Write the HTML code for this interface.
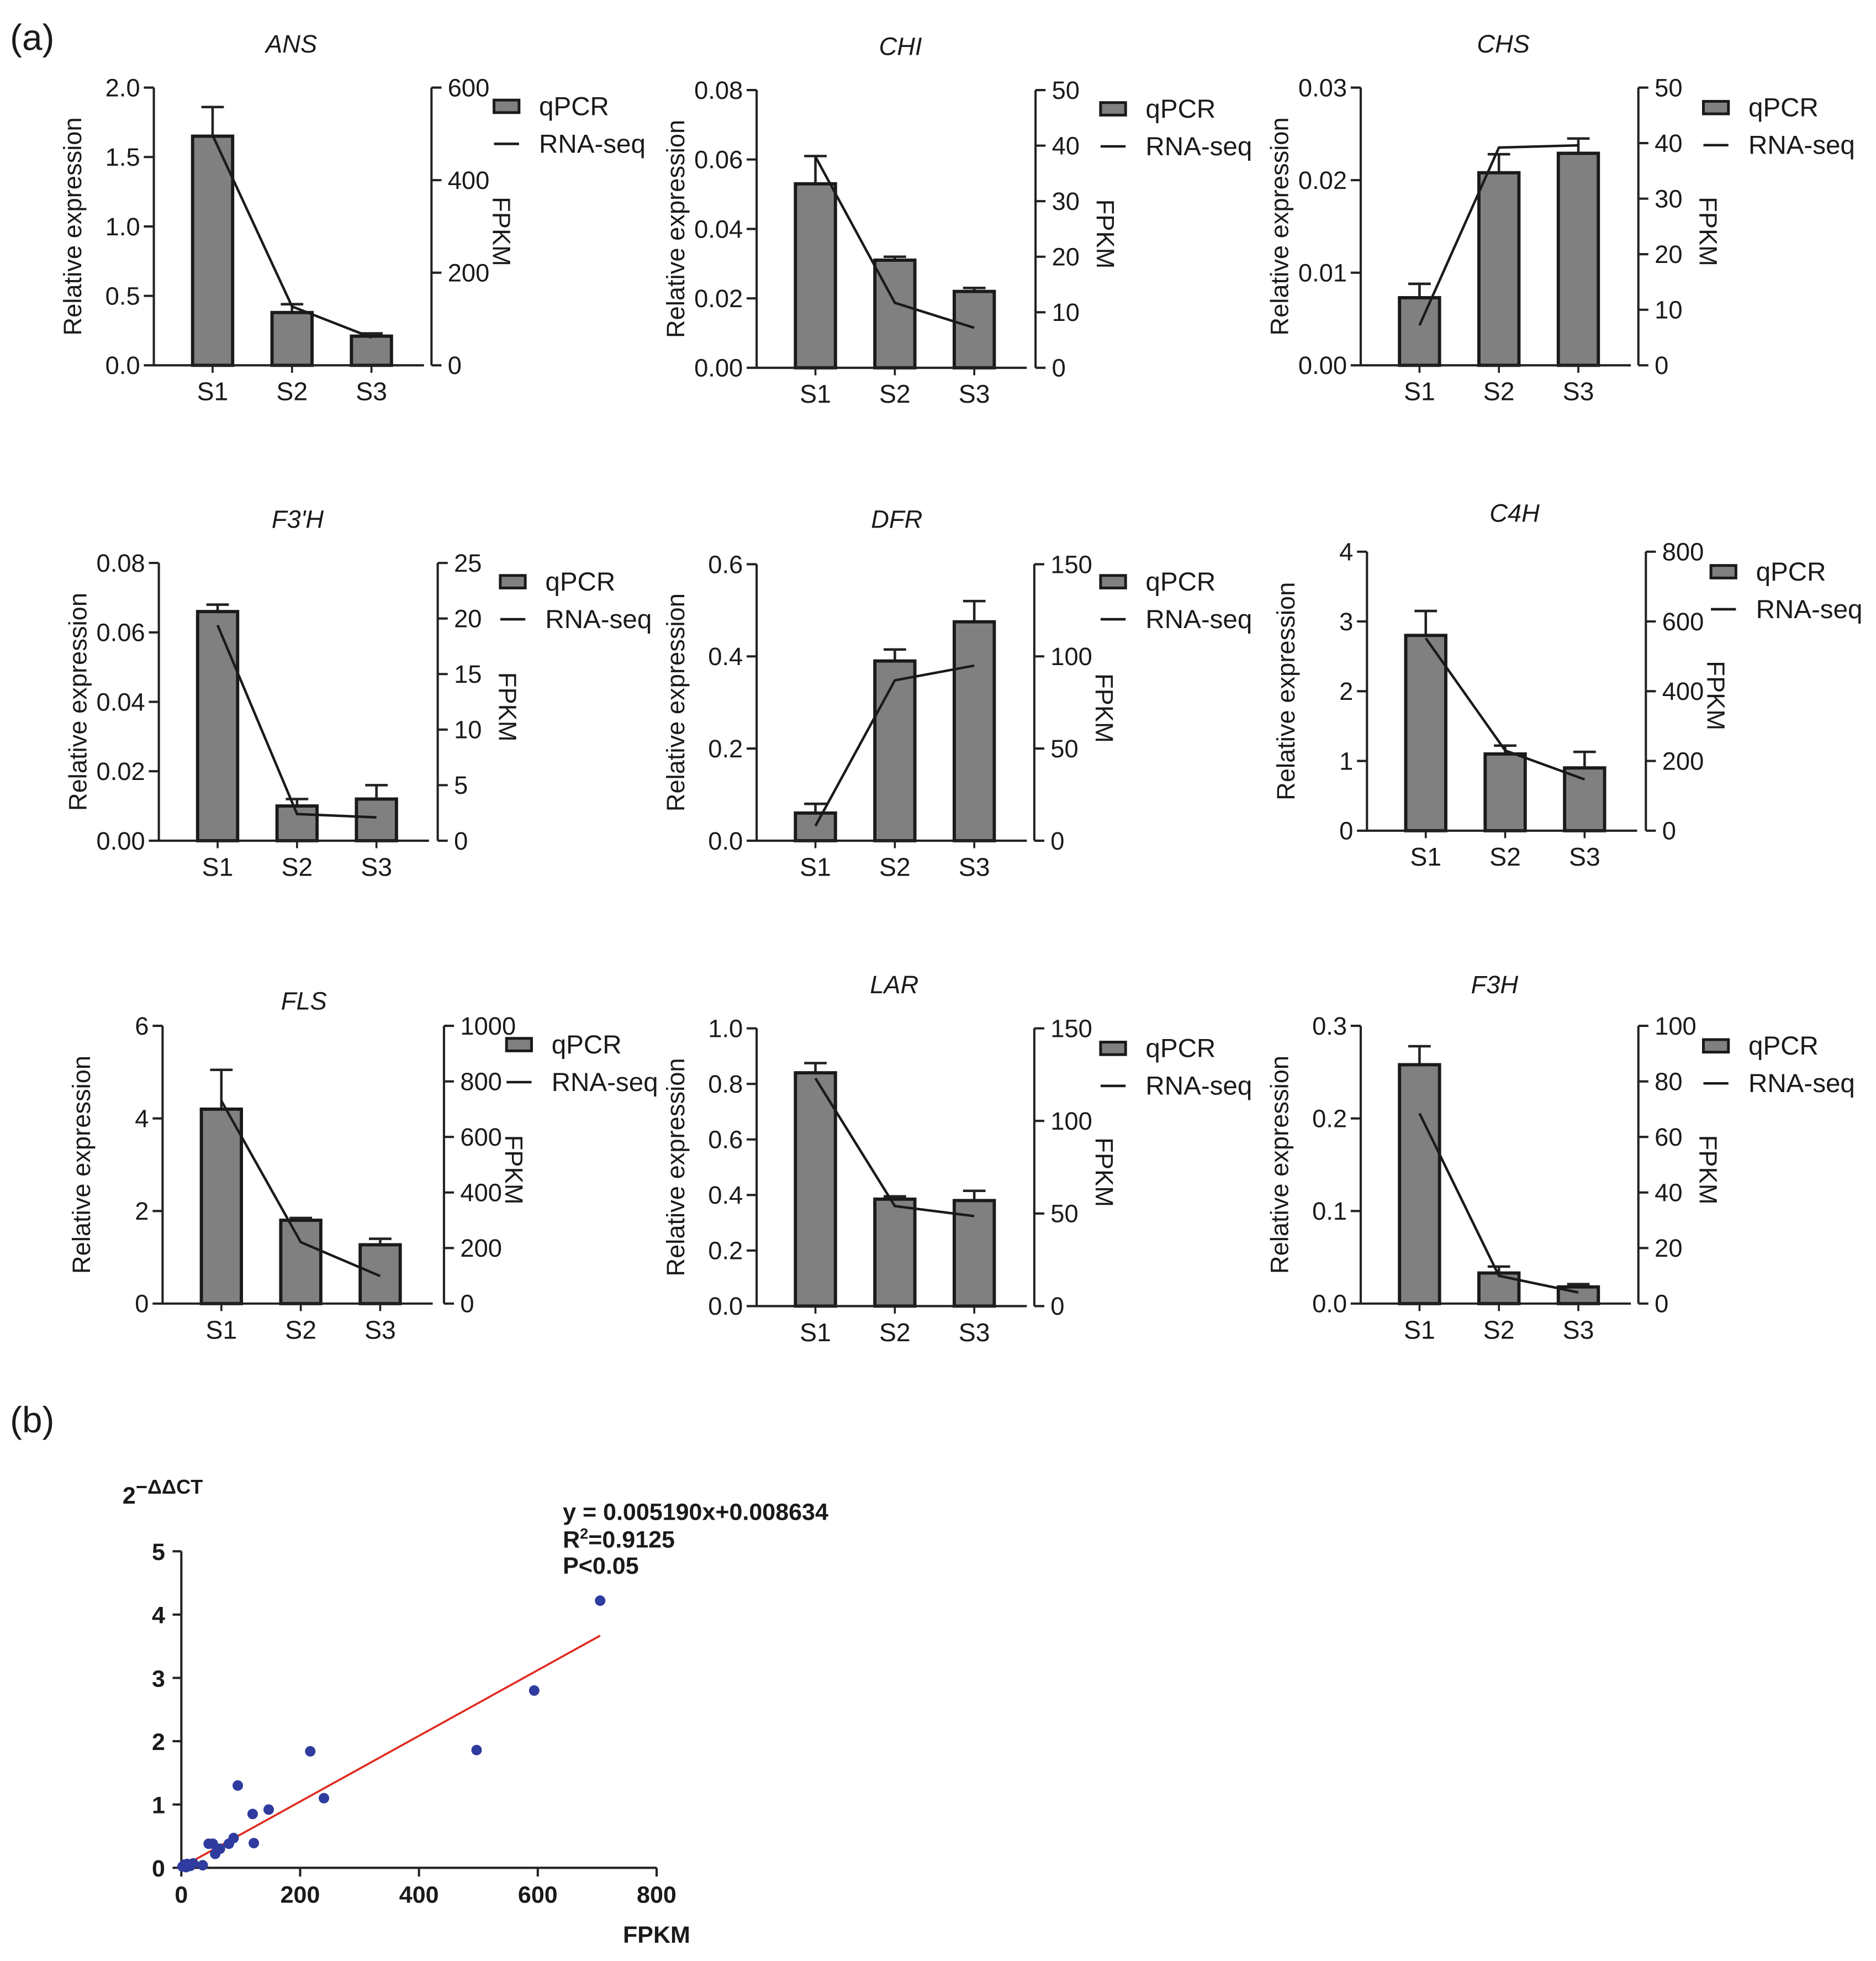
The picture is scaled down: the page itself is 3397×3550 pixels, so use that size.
<!DOCTYPE html>
<html><head><meta charset="utf-8"><style>
html,body{margin:0;padding:0;background:#fff}
svg{display:block}
text{font-family:"Liberation Sans",Arial,sans-serif;fill:#1a1a1a}
</style></head><body>
<svg id="fig" width="3397" height="3550" viewBox="0 0 1500 1567.5" preserveAspectRatio="none" xmlns="http://www.w3.org/2000/svg">
<text x="8" y="40" font-size="29">(a)</text>
<text x="8" y="1145" font-size="29">(b)</text>
</svg>
<script>
const genes=["ANS","CHI","CHS","F3'H","DFR","C4H","FLS","LAR","F3H"];
const categories=["S1","S2","S3"];
const qpcrMeans=[[1.65,0.38,0.21],[0.053,0.031,0.022],[0.0073,0.0208,0.0229],[0.066,0.010,0.012],[0.06,0.39,0.475],[2.8,1.1,0.9],[4.2,1.8,1.27],[0.84,0.385,0.38],[0.258,0.033,0.018]];
const qpcrErrTop=[[1.86,0.44,0.23],[0.061,0.032,0.023],[0.0088,0.0228,0.0245],[0.068,0.012,0.016],[0.08,0.415,0.52],[3.15,1.22,1.13],[5.05,1.85,1.4],[0.875,0.395,0.415],[0.278,0.04,0.021]];
const fpkmValues=[[497,127,60],[38,11.7,7.2],[7.2,39.2,39.6],[19.4,2.4,2.1],[8,87,95],[552,230,147],[730,221,99],[123,54,48.6],[68.5,10,4]];
const leftMax=[2.0,0.08,0.03,0.08,0.6,4,6,1.0,0.3];
const rightMax=[600,50,50,25,150,800,1000,150,100];
const leftTicks=[["0.0","0.5","1.0","1.5","2.0"],["0.00","0.02","0.04","0.06","0.08"],["0.00","0.01","0.02","0.03"],["0.00","0.02","0.04","0.06","0.08"],["0.0","0.2","0.4","0.6"],["0","1","2","3","4"],["0","2","4","6"],["0.0","0.2","0.4","0.6","0.8","1.0"],["0.0","0.1","0.2","0.3"]];
const rightTicks=[["0","200","400","600"],["0","10","20","30","40","50"],["0","10","20","30","40","50"],["0","5","10","15","20","25"],["0","50","100","150"],["0","200","400","600","800"],["0","200","400","600","800","1000"],["0","50","100","150"],["0","20","40","60","80","100"]];
// scatter data
const scatterFpkm=[2,5,8,10,15,20,36,46,53,57,65,80,88,95,120,122,147,217,240,497,594,705];
const scatterDdct=[0.02,0.05,0.01,0.06,0.03,0.07,0.04,0.38,0.38,0.22,0.3,0.38,0.47,1.3,0.85,0.39,0.92,1.84,1.1,1.86,2.8,4.22];
const xTicksB=[0,200,400,600,800];
const yTicksB=[0,1,2,3,4,5];
const slope=0.005190, intercept=0.008634;

// layout (pixel geometry, not data)
const layout=[[123,70,292,345,233,42,395,85],[605,72,294,828,720,44,880,87],[1088,70,292,1310,1202,42,1362,86],
[127,450,672,350,238,422,400,465],[605,451,672,827,717,422,880,465],[1093,441,664,1316,1211,417,1368,457],
[130,820,1042,355,243,807,405,835],[605,822,1044,827,715,794,880,838],[1088,820,1042,1310,1195,794,1362,836]];
const svg=document.getElementById('fig');
const NS="http://www.w3.org/2000/svg";
function mk(tag,attrs,parent,txt){const e=document.createElementNS(NS,tag);for(const k in attrs)e.setAttribute(k,attrs[k]);if(txt!==undefined)e.textContent=txt;(parent||svg).appendChild(e);return e;}

genes.forEach((g,p)=>{
  const [lx,top,bot,rx,tx,ty,lgx,lgy]=layout[p];
  const grp=mk('g',{});
  
  
  const yL=v=>bot-(v/leftMax[p])*(bot-top);
  const yR=v=>bot-(v/rightMax[p])*(bot-top);
  const xC=i=>lx+47+i*63.5;
  const t=mk('text',{x:tx,y:ty,'font-size':20,'font-style':'italic','text-anchor':'middle'},grp,g);
  
  
  categories.forEach((c,i)=>{
    const v=qpcrMeans[p][i], e=qpcrErrTop[p][i];
    const eb=mk('path',{d:`M${xC(i)} ${yL(v)}V${yL(e)}M${xC(i)-9} ${yL(e)}H${xC(i)+9}`,stroke:'#222','stroke-width':2,fill:'none'},grp);
    
    
    const b=mk('rect',{x:xC(i)-16,y:yL(v),width:32,height:bot-yL(v),fill:'#808080',stroke:'#1a1a1a','stroke-width':2.6},grp);
    
    
    const cl=mk('text',{x:xC(i),y:bot+28,'font-size':20.5,'text-anchor':'middle'},grp,c);
    
    
    mk('line',{x1:xC(i),x2:xC(i),y1:bot,y2:bot+6,stroke:'#222','stroke-width':1.6},grp);
  });
  const pts=fpkmValues[p].map((v,i)=>xC(i)+','+yR(v)).join(' ');
  const ln=mk('polyline',{points:pts,fill:'none',stroke:'#1a1a1a','stroke-width':2},grp);
  
  
  mk('path',{d:`M${lx} ${top}V${bot}H${lx+216}`,stroke:'#222','stroke-width':1.8,fill:'none'},grp);
  mk('path',{d:`M${rx} ${top}V${bot}`,stroke:'#222','stroke-width':1.8,fill:'none'},grp);
  leftTicks[p].forEach((s,i)=>{
    const y=yL(parseFloat(s));
    mk('line',{x1:lx-8,x2:lx,y1:y,y2:y,stroke:'#222','stroke-width':1.8},grp);
    const tl=mk('text',{x:lx-11,y:y+7,'font-size':20,'text-anchor':'end'},grp,s);
    
    
  });
  rightTicks[p].forEach((s,i)=>{
    const y=yR(parseFloat(s));
    mk('line',{x1:rx,x2:rx+8,y1:y,y2:y,stroke:'#222','stroke-width':1.8},grp);
    const tl=mk('text',{x:rx+13,y:y+7,'font-size':20},grp,s);
    
    
  });
  const ym=(top+bot)/2;
  const at=mk('text',{x:0,y:0,'font-size':20,'text-anchor':'middle',transform:`translate(${lx-58},${ym}) rotate(-90)`},grp,'Relative expression');
  
  
  const rt=mk('text',{x:0,y:0,'font-size':20,'text-anchor':'middle',transform:`translate(${rx+49},${top+115}) rotate(90)`},grp,'FPKM');
  
  
  const l1=mk('g',{},grp);
  
  
  mk('rect',{x:lgx,y:lgy-5,width:20,height:10,fill:'#808080',stroke:'#1a1a1a','stroke-width':2.2},l1);
  mk('text',{x:lgx+36,y:lgy+7,'font-size':21},l1,'qPCR');
  const l2=mk('g',{},grp);
  
  
  mk('line',{x1:lgx,x2:lgx+20,y1:lgy+30,y2:lgy+30,stroke:'#1a1a1a','stroke-width':2},l2);
  mk('text',{x:lgx+36,y:lgy+37,'font-size':21},l2,'RNA-seq');
});

const sg=mk('g',{});


const bx0=145,bx1=525,by0=1493,by1=1240;
const sx=v=>bx0+v/800*(bx1-bx0);
const sy=v=>by0-v/5*(by0-by1);
mk('path',{d:`M${bx0} ${by1}V${by0}H${bx1}`,stroke:'#222','stroke-width':1.8,fill:'none'},sg);
xTicksB.forEach(v=>{
  mk('line',{x1:sx(v),x2:sx(v),y1:by0,y2:by0+7,stroke:'#222','stroke-width':1.8},sg);
  const t=mk('text',{x:sx(v),y:by0+28,'font-size':19,'font-weight':'bold','text-anchor':'middle'},sg,String(v));
  
  
});
yTicksB.forEach(v=>{
  mk('line',{x1:bx0-7,x2:bx0,y1:sy(v),y2:sy(v),stroke:'#222','stroke-width':1.8},sg);
  const t=mk('text',{x:bx0-13,y:sy(v)+7,'font-size':19,'font-weight':'bold','text-anchor':'end'},sg,String(v));
  
  
});
const xmaxFit=Math.max(...scatterFpkm);
const fit=mk('line',{x1:sx(0),y1:sy(intercept),x2:sx(xmaxFit),y2:sy(slope*xmaxFit+intercept),stroke:'#e02a1f','stroke-width':1.6},sg);


scatterFpkm.forEach((v,i)=>{
  const c=mk('circle',{cx:sx(v),cy:sy(scatterDdct[i]),r:4.2,fill:'#2f3b9e'},sg);
  
  
});
const xt=mk('text',{x:525,y:1553,'font-size':19,'font-weight':'bold','text-anchor':'middle'},sg,'FPKM');


const ytl=mk('text',{x:98,y:1202,'font-size':19,'font-weight':'bold'},sg);


ytl.innerHTML='2<tspan dy="-8" font-size="16">−ΔΔCT</tspan>';
const eq=mk('text',{x:450,y:1215,'font-size':19,'font-weight':'bold'},sg,'y = 0.005190x+0.008634');


const r2=mk('text',{x:450,y:1237,'font-size':19,'font-weight':'bold'},sg);


r2.innerHTML='R<tspan dy="-7" font-size="12">2</tspan><tspan dy="7">=0.9125</tspan>';
const pv=mk('text',{x:450,y:1258,'font-size':19,'font-weight':'bold'},sg,'P<0.05');


</script>
</body></html>
